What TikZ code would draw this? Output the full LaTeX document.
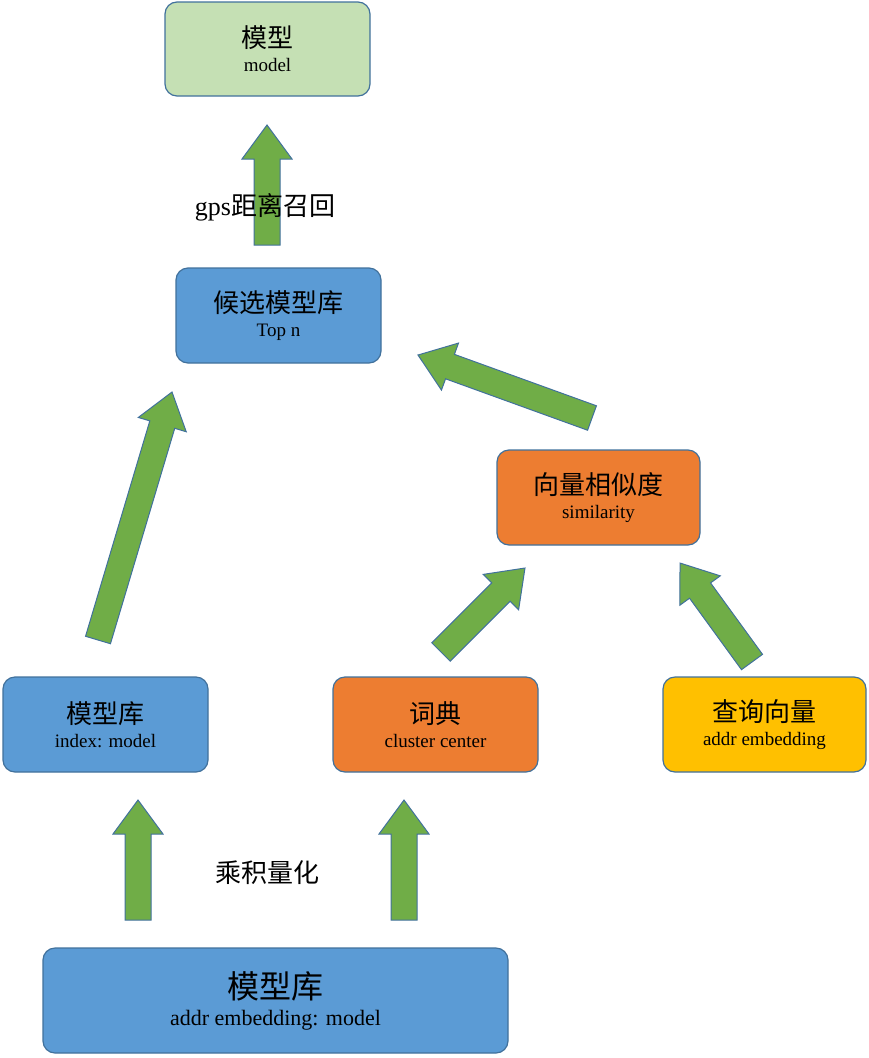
\documentclass[tikz,border=0pt]{standalone}
\usepackage{fontspec}
\setmainfont{Liberation Serif}
\newfontfamily\cjk{Noto Sans CJK SC}
\definecolor{bblue}{HTML}{5B9BD5}
\definecolor{bline}{HTML}{41719C}
\definecolor{lgreen}{HTML}{C5E0B4}
\definecolor{orng}{HTML}{ED7D31}
\definecolor{yell}{HTML}{FFC000}
\definecolor{agreen}{HTML}{70AD47}
\tikzset{
 box/.style={draw=bline, line width=1.2pt, rounded corners=12pt, align=center, inner sep=0pt},
 arr/.style={draw=bline, fill=agreen, line width=1pt},
}
\newcommand\barrow[4]{%
 \pgfmathsetmacro\dx{#3-#1}\pgfmathsetmacro\dy{#4-#2}%
 \pgfmathsetmacro\len{veclen(\dx,\dy)}\pgfmathsetmacro\ang{atan2(-\dy,\dx)}%
 \begin{scope}[shift={(#1,#2)},rotate=\ang]
 \draw[arr] (0,-13)--(\len-34,-13)--(\len-34,-25)--(\len,0)--(\len-34,25)--(\len-34,13)--(0,13)--cycle;
 \end{scope}}
\newcommand\boxtext[3]{{\cjk\fontsize{#3}{#3}\selectfont #1}\\[8pt]{\fontsize{19}{19}\selectfont #2}}
\begin{document}
\begin{tikzpicture}[x=1pt,y=-1pt]
\useasboundingbox (0,0) rectangle (868,1058);
\node[box, fill=lgreen, minimum width=205, minimum height=94] (model) at (267.5,49) {\boxtext{模型}{model}{26}};
\node[box, fill=bblue, minimum width=205, minimum height=95] (cand) at (278.5,315.5) {\boxtext{候选模型库}{Top n}{26}};
\node[box, fill=orng, minimum width=203, minimum height=95] (sim) at (598.5,497.5) {\boxtext{向量相似度}{similarity}{26}};
\node[box, fill=bblue, minimum width=205, minimum height=95] (lib) at (105.5,724.5) {\boxtext{模型库}{index: model}{26}};
\node[box, fill=orng, minimum width=205, minimum height=95] (dict) at (435.5,724.5) {\boxtext{词典}{cluster center}{26}};
\node[box, fill=yell, minimum width=203, minimum height=95] (query) at (764.5,724.5) {\boxtext{查询向量}{addr embedding}{26}};
\node[box, fill=bblue, minimum width=465, minimum height=105] (base) at (275.5,1000.5) {{\cjk\fontsize{32}{32}\selectfont 模型库}\\[8pt]{\fontsize{22}{22}\selectfont addr embedding: model}};
\barrow{267}{245}{267}{125}
\barrow{98}{640}{172}{392}
\barrow{592}{418}{418}{355}
\barrow{441}{652}{525}{568}
\barrow{752}{662}{680}{563}
\barrow{138}{920}{138}{800}
\barrow{404}{920}{404}{800}
\node (gps) at (265,207) {\fontsize{26}{26}\selectfont gps{\cjk 距离召回}};
\node[font=\cjk] (pq) at (267,873) {\fontsize{26}{26}\selectfont 乘积量化};
\end{tikzpicture}
\end{document}
